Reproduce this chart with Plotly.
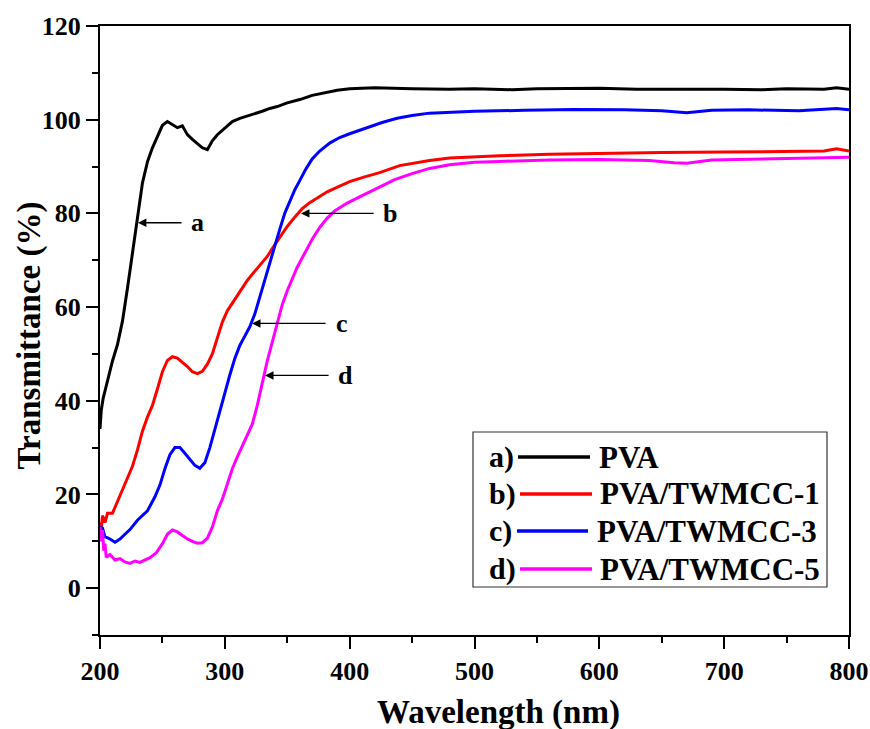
import plotly.graph_objects as go

# ---------------- data ----------------
wl_a = [200, 201, 202.5, 206, 210, 214, 218, 222, 226, 230, 234, 238, 242, 246, 250, 254, 258,
        262, 266, 270, 274, 278, 282, 286, 290, 294, 298, 302, 306, 312, 318, 324, 330, 336,
        342, 350, 360, 370, 380, 390, 400, 420, 450, 480, 500, 530, 550, 580, 600, 630, 650,
        680, 700, 730, 750, 780, 790, 800]
t_a = [34, 38, 40.5, 44.5, 48.5, 52, 57, 64, 71, 79, 86.5, 91, 94, 96.5, 98.8, 99.6, 99.0,
       98.3, 98.7, 96.8, 95.8, 95.0, 94.0, 93.6, 95.5, 96.8, 97.8, 98.8, 99.6, 100.3, 100.8,
       101.2, 101.8, 102.4, 102.8, 103.6, 104.3, 105.2, 105.8, 106.3, 106.6, 106.8, 106.6,
       106.5, 106.6, 106.4, 106.6, 106.7, 106.7, 106.5, 106.5, 106.6, 106.5, 106.4, 106.6,
       106.5, 106.8, 106.5]

wl_b = [200, 201, 202, 204, 206, 210, 214, 218, 222, 226, 230, 234, 238, 242, 246, 250, 254,
        258, 262, 266, 270, 274, 278, 282, 286, 290, 294, 298, 302, 306, 310, 314, 318, 322,
        326, 330, 334, 338, 344, 350, 356, 362, 368, 374, 382, 392, 400, 412, 424, 440, 464,
        480, 500, 520, 560, 600, 650, 700, 750, 780, 790, 800]
t_b = [14, 12.5, 15.5, 14, 16, 16, 18.5, 21, 23.5, 26, 29.5, 33.5, 36.5, 39, 42.5, 46.2,
       48.6, 49.4, 49.1, 48.3, 47.3, 46.2, 45.8, 46.3, 47.8, 50, 53.5, 56.8, 59.2, 60.9, 62.5,
       64.2, 65.7, 67, 68.2, 69.4, 70.8, 72.5, 74.9, 77.2, 79.2, 81, 82.3, 83.3, 84.6, 85.8,
       86.8, 87.8, 88.7, 90.2, 91.3, 91.8, 92.1, 92.3, 92.6, 92.8, 93.0, 93.1, 93.2, 93.3,
       93.8, 93.3]

wl_c = [200, 202, 204, 208, 212, 216, 220, 224, 230, 238, 244, 248, 252, 256, 260, 264, 268,
        272, 276, 280, 284, 288, 292, 296, 300, 304, 308, 312, 316, 320, 324, 328, 332, 336,
        340, 344, 348, 352, 356, 360, 365, 370, 376, 384, 392, 400, 414, 426, 438, 450, 464,
        480, 500, 540, 580, 620, 650, 670, 690, 720, 760, 790, 800]
t_c = [13, 12.8, 11, 10.5, 9.8, 10.5, 11.5, 12.5, 14.5, 16.5, 19.5, 22, 25.5, 28.5, 30,
       30, 28.8, 27.5, 26.2, 25.6, 26.8, 30, 34, 38, 42, 45.5, 49, 51.8, 53.8, 55.8, 58.5, 62,
       65.5, 69.5, 73, 76.6, 80, 82.5, 85, 87, 89.5, 91.6, 93.3, 95, 96.2, 97, 98.3, 99.4,
       100.3, 100.9, 101.4, 101.6, 101.8, 102, 102.2, 102.1, 101.9, 101.5, 102, 102.1, 101.9,
       102.4, 102.1]

wl_d = [200, 201, 202, 203, 204, 205, 208, 212, 216, 220, 224, 228, 232, 236, 240, 245, 250,
        254, 258, 262, 266, 270, 274, 278, 282, 286, 290, 294, 298, 302, 306, 310, 314, 318,
        322, 326, 330, 334, 338, 342, 346, 350, 354, 358, 364, 370, 376, 382, 388, 398, 410,
        424, 436, 450, 464, 480, 500, 520, 560, 600, 640, 660, 670, 690, 720, 760, 800]
t_d = [13, 10, 12.4, 8, 9.5, 6.6, 7.2, 6, 6.3, 5.6, 5.3, 5.8, 5.5, 6, 6.5, 7.5, 9.5, 11.5,
       12.4, 12, 11.2, 10.5, 10, 9.6, 9.7, 10.7, 13, 16.5, 19, 22.5, 25.5, 28, 30.3, 32.5, 35,
       39, 44, 48.5, 52.5, 56.5, 60.5, 63.5, 66.2, 68.5, 71.5, 74.5, 77, 79, 80.5, 82.2,
       83.8, 85.6, 87.2, 88.5, 89.6, 90.4, 90.9, 91.1, 91.4, 91.5, 91.3, 90.8, 90.7, 91.4,
       91.6, 91.8, 92.0]

series_names = ["PVA", "PVA/TWMCC-1", "PVA/TWMCC-3", "PVA/TWMCC-5"]
series_tags = ["a)", "b)", "c)", "d)"]
series_colors = ["#000000", "#ff0000", "#0000ff", "#ff00ff"]

x_ticks = [200, 300, 400, 500, 600, 700, 800]
y_ticks = [0, 20, 40, 60, 80, 100, 120]
x_title = "Wavelength (nm)"
y_title = "Transmittance (%)"

# arrow labels: letter, head wavelength, tail wavelength, text wavelength, y value
arrow_letters = ["a", "b", "c", "d"]
arrow_head_x = [230.4, 361.0, 321.8, 332.2]
arrow_tail_x = [266.5, 420.4, 381.9, 384.3]
arrow_text_x = [277.7, 432.4, 393.9, 396.3]
arrow_y = [78.0, 80.0, 56.5, 45.4]

# ---------------- figure ----------------
FONT = "Liberation Serif"
fig = go.Figure()
for wl, t, name, col in zip([wl_a, wl_b, wl_c, wl_d], [t_a, t_b, t_c, t_d],
                            series_names, series_colors):
    fig.add_trace(go.Scatter(x=wl, y=t, mode="lines", name=name,
                             line=dict(color=col, width=3), showlegend=False))

for L, hx, tx, lx, yv in zip(arrow_letters, arrow_head_x, arrow_tail_x, arrow_text_x, arrow_y):
    fig.add_annotation(x=hx, y=yv, ax=tx, ay=yv, axref="x", ayref="y", xref="x", yref="y",
                       text="", showarrow=True, arrowhead=2, arrowsize=1.3, arrowwidth=1.3,
                       arrowcolor="#000000")
    fig.add_annotation(x=lx, y=yv, xref="x", yref="y", text=L, showarrow=False,
                       font=dict(family=FONT, size=26, color="#000000", weight="bold"),
                       xanchor="center", yanchor="middle")

# pixel -> paper helpers (plot area spans x 100..849, y 26..635)
W_PLOT, H_PLOT, L_PX, B_PX = 749.0, 609.0, 100.0, 635.0
def px(xp):
    return (xp - L_PX) / W_PLOT
def py(yp):
    return (B_PX - yp) / H_PLOT

# axis titles
fig.add_annotation(x=px(498), y=py(712), xref="paper", yref="paper", text=x_title,
                   showarrow=False, xanchor="center", yanchor="middle",
                   font=dict(family=FONT, size=33, color="#000000", weight="bold"))
fig.add_annotation(x=px(28.5), y=py(336), xref="paper", yref="paper", text=y_title,
                   showarrow=False, xanchor="center", yanchor="middle", textangle=-90,
                   font=dict(family=FONT, size=33, color="#000000", weight="bold"))

# manual legend (box, sample lines, labels)
fig.add_shape(type="rect", xref="paper", yref="paper", x0=px(473), x1=px(827),
              y0=py(587), y1=py(432), line=dict(color="#333333", width=1.2),
              fillcolor="rgba(255,255,255,0)")
row_y = [457, 494, 531, 569]
line_x0 = [518, 520, 517, 520]
line_x1 = [590, 592, 588, 592]
text_x = [597, 598, 595, 598]
for tag, name, col, ry, lx0, lx1, tx in zip(series_tags, series_names, series_colors,
                                            row_y, line_x0, line_x1, text_x):
    fig.add_annotation(x=px(487), y=py(ry), xref="paper", yref="paper", text=tag,
                       showarrow=False, xanchor="left", yanchor="middle",
                       font=dict(family=FONT, size=30, color="#000000", weight="bold"))
    fig.add_shape(type="line", xref="paper", yref="paper", x0=px(lx0), x1=px(lx1),
                  y0=py(ry), y1=py(ry), line=dict(color=col, width=3.5))
    fig.add_annotation(x=px(tx), y=py(ry), xref="paper", yref="paper", text=name,
                       showarrow=False, xanchor="left", yanchor="middle",
                       font=dict(family=FONT, size=31, color="#000000", weight="bold"))

axis_common = dict(showline=True, linecolor="#000000", linewidth=2, mirror=True,
                   ticks="outside", ticklen=12, tickwidth=2, tickcolor="#000000",
                   showgrid=False, zeroline=False, automargin=False,
                   tickfont=dict(family=FONT, size=26, color="#000000", weight="bold"),
                   minor=dict(ticks="outside", ticklen=6, tickwidth=2, tickcolor="#000000"))

fig.update_xaxes(range=[200, 800], tickvals=x_ticks, ticktext=[str(v) for v in x_ticks],
                 minor_dtick=50, **axis_common)
fig.update_yaxes(range=[-10, 120], tickvals=y_ticks, ticktext=[str(v) for v in y_ticks],
                 minor_dtick=10, **axis_common)

fig.update_layout(template="none", width=870, height=729,
                  margin=dict(l=100, r=21, t=26, b=94, autoexpand=False),
                  paper_bgcolor="#ffffff", plot_bgcolor="#ffffff", showlegend=False)

fig.write_html("out.html")
